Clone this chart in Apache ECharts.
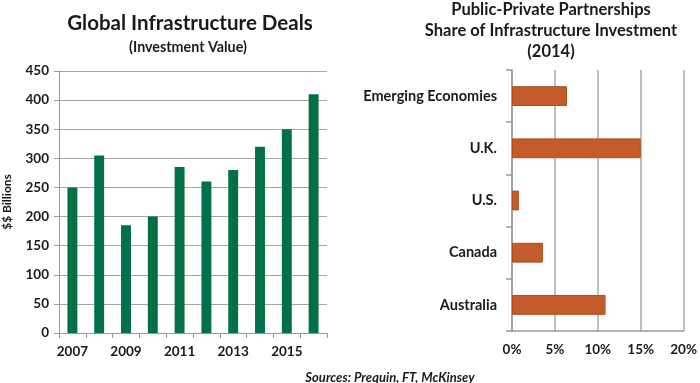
<!DOCTYPE html>
<html><head><meta charset="utf-8">
<script src="https://cdn.jsdelivr.net/npm/echarts@6/dist/echarts.min.js"></script>
<style>html,body{margin:0;padding:0;background:#fff}#c{width:700px;height:383px}</style>
</head><body><div id="c"></div>
<script>
var years = ['2007','2008','2009','2010','2011','2012','2013','2014','2015','2016'];
var deals = [250, 305, 185, 200, 285, 260, 280, 320, 350, 410];
var regions = ['Australia','Canada','U.S.','U.K.','Emerging Economies'];
var pppShare = [10.9, 3.6, 0.8, 15, 6.4];

var FONT = 'Lato';
var txt = '#1a1a1a';
var chart = echarts.init(document.getElementById('c'));
chart.setOption({
  animation: false,
  textStyle: {fontFamily: FONT},
  title: [
    {text: 'Global Infrastructure Deals', left: 185, top: 8, textAlign: 'center',
     textStyle: {fontFamily: FONT, fontSize: 20.5, fontWeight: 'bold', color: txt}},
    {text: '(Investment Value)', left: 183, top: 35, textAlign: 'center',
     textStyle: {fontFamily: FONT, fontSize: 14.3, fontWeight: 'bold', color: txt}},
    {text: 'Public-Private Partnerships\nShare of Infrastructure Investment\n(2014)', left: 546, top: -6, textAlign: 'center',
     textStyle: {fontFamily: FONT, fontSize: 16.5, fontWeight: 'bold', color: txt, lineHeight: 21}},
    {text: 'Sources: Prequin, FT, McKinsey', left: 385, top: 366, textAlign: 'center',
     textStyle: {fontFamily: FONT, fontSize: 13, fontWeight: 'bold', fontStyle: 'italic', color: txt}}
  ],
  grid: [
    {left: 57, right: 373, top: 71, bottom: 50},
    {left: 512, right: 16, top: 70, bottom: 52}
  ],
  xAxis: [
    {type: 'category', gridIndex: 0, data: years, boundaryGap: true,
     axisLine: {lineStyle: {color: '#999', width: 1}},
     axisTick: {show: true, interval: 0, length: 5, lineStyle: {color: '#999'}},
     axisLabel: {interval: 1, color: txt, fontSize: 13.5, fontWeight: 'bold', margin: 12}},
    {type: 'value', gridIndex: 1, min: 0, max: 20, interval: 5,
     axisLine: {show: true, lineStyle: {color: '#999', width: 1.5}},
     axisTick: {show: false},
     splitLine: {lineStyle: {color: '#aaa', width: 1.5}},
     axisLabel: {formatter: '{value}%', color: txt, fontSize: 13.5, fontWeight: 'bold', margin: 12}}
  ],
  yAxis: [
    {type: 'value', gridIndex: 0, min: 0, max: 450, interval: 50,
     name: '$$ Billions', nameLocation: 'middle', nameGap: 46, nameRotate: 90,
     nameTextStyle: {color: txt, fontSize: 12, fontWeight: 'bold'},
     axisLine: {show: true, lineStyle: {color: '#999'}},
     axisTick: {show: true, length: 5, lineStyle: {color: '#999'}},
     splitLine: {lineStyle: {color: '#a6a6a6'}},
     axisLabel: {color: txt, fontSize: 13.5, fontWeight: 'bold', margin: 10}},
    {type: 'category', gridIndex: 1, data: regions, boundaryGap: true,
     axisLine: {show: true, lineStyle: {color: '#999', width: 1.5}},
     axisTick: {show: true, interval: 0, length: 6, lineStyle: {color: '#999', width: 1.5}},
     axisLabel: {color: txt, fontSize: 14.5, fontWeight: 'bold', margin: 15}}
  ],
  series: [
    {type: 'bar', xAxisIndex: 0, yAxisIndex: 0, data: deals, barWidth: '37%',
     itemStyle: {color: '#007047'}},
    {type: 'bar', xAxisIndex: 1, yAxisIndex: 1, data: pppShare, barWidth: '38%',
     itemStyle: {color: '#C55A2B', borderColor: '#B04E22', borderWidth: 1}}
  ]
});
</script></body></html>
